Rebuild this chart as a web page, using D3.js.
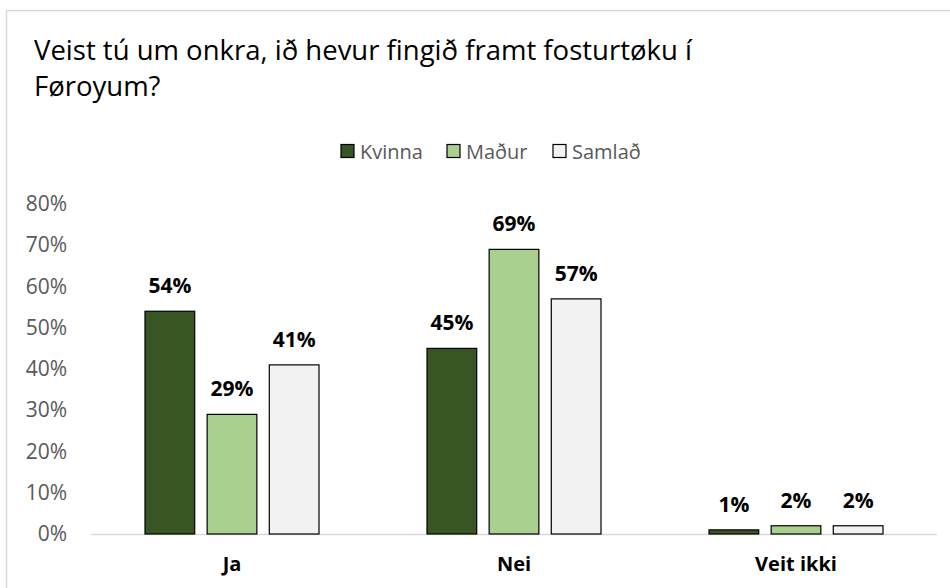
<!DOCTYPE html>
<html><head><meta charset="utf-8">
<script src="https://cdn.jsdelivr.net/npm/d3@7"></script>
<style>body{margin:0;background:#fff}svg{display:block}</style>
</head><body>
<script>
const categories = ["Ja", "Nei", "Veit ikki"];
const seriesNames = ["Kvinna", "Maður", "Samlað"];
const kvinna = [54, 45, 1];
const madur = [29, 69, 2];
const samlad = [41, 57, 2];
const yTicks = [0, 10, 20, 30, 40, 50, 60, 70, 80];
const colors = ["#375623", "#A9D08E", "#F2F2F2"];
const titleLines = ["Veist tú um onkra, ið hevur fingið framt fosturtøku í", "Føroyum?"];

const W = 950, H = 588;
const font = "'Open Sans', Lato, sans-serif";
const svg = d3.select("body").append("svg").attr("width", W).attr("height", H);

svg.append("rect").attr("x", 6.5).attr("y", 10.5).attr("width", W + 10).attr("height", H + 10)
  .attr("fill", "#fff").attr("stroke", "#d9d9d9").attr("stroke-width", 1.5);

svg.selectAll("text.title").data(titleLines).join("text").attr("class", "title")
  .attr("x", 34).attr("y", (d, i) => 60 + i * 36)
  .attr("font-family", font).attr("font-size", 27.5).attr("fill", "#000").text(d => d);

const data = [kvinna, madur, samlad];
const x0 = d3.scaleBand().domain(categories).range([91, 937]).padding(0);
const x1 = d3.scaleBand().domain(seriesNames).range([0, 174]).paddingInner(0.2);
const y = d3.scaleLinear().domain([0, 80]).range([534, 204]);

// y axis labels
const yAxis = d3.axisLeft(y).tickValues(yTicks).tickFormat(d => d + "%").tickSize(0).tickPadding(0);
const gy = svg.append("g").attr("transform", "translate(67,0)").call(yAxis);
gy.select(".domain").remove();
gy.selectAll("text").attr("font-family", font).attr("font-size", 21).attr("fill", "#595959");

// baseline
svg.append("line").attr("x1", 91).attr("x2", 937).attr("y1", y(0) + 0.5).attr("y2", y(0) + 0.5)
  .attr("stroke", "#d9d9d9").attr("stroke-width", 1.5);

const groupOff = (x0.bandwidth() - 174) / 2;
seriesNames.forEach((s, si) => {
  const g = svg.append("g");
  categories.forEach((c, ci) => {
    const v = data[si][ci];
    const bx = x0(c) + groupOff + x1(s);
    g.append("rect").attr("x", bx).attr("y", y(v)).attr("width", x1.bandwidth())
      .attr("height", y(0) - y(v)).attr("fill", colors[si]).attr("stroke", "#000").attr("stroke-width", 1.2);
    g.append("text").attr("x", bx + x1.bandwidth() / 2).attr("y", y(v) - 18)
      .attr("text-anchor", "middle").attr("font-family", font).attr("font-weight", "bold")
      .attr("font-size", 21).attr("fill", "#000").text(v + "%");
  });
});

// x axis labels
const xAxis = d3.axisBottom(x0).tickSize(0).tickPadding(0);
const gx = svg.append("g").attr("transform", "translate(0,571)").call(xAxis);
gx.select(".domain").remove();
gx.selectAll("text").attr("dy", 0).attr("font-family", font).attr("font-weight", "bold")
  .attr("font-size", 20).attr("fill", "#000");

// legend
const legX = [341, 447, 553];
seriesNames.forEach((s, i) => {
  svg.append("rect").attr("x", legX[i]).attr("y", 144.5).attr("width", 13).attr("height", 13)
    .attr("fill", colors[i]).attr("stroke", "#000").attr("stroke-width", 1.2);
  svg.append("text").attr("x", legX[i] + 19).attr("y", 159).attr("font-family", font)
    .attr("font-size", 20).attr("fill", "#595959").text(s);
});
</script>
</body></html>
